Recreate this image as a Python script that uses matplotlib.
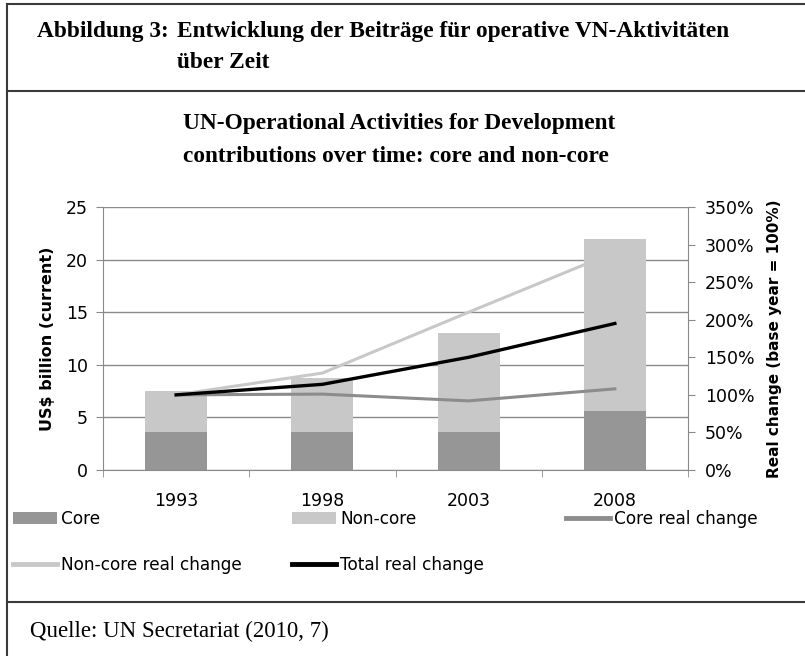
import matplotlib
matplotlib.use("Agg")
import matplotlib.pyplot as plt
import numpy as np
from matplotlib.lines import Line2D
from matplotlib.ticker import FuncFormatter

# data
years = ["1993", "1998", "2003", "2008"]
core = [3.6, 3.6, 3.6, 5.6]
non_core = [3.9, 5.1, 9.4, 16.4]
core_real = [100, 101, 92, 108]
non_core_real = [100, 129, 210, 290]
total_real = [100, 114, 150, 195]

C_CORE = "#969696"
C_NONCORE = "#c8c8c8"
C_GRID = "#8a8a8a"

plt.rcParams["font.family"] = ["DejaVu Sans"]

fig = plt.figure(figsize=(8.05, 6.56), dpi=100)

# outer frame of the figure box
frame = dict(color="#3a3a3a", lw=1.5, transform=fig.transFigure)
fig.add_artist(Line2D([0.0087, 1.0], [0.9939, 0.9939], **frame))
fig.add_artist(Line2D([0.0087, 0.0087], [0.0, 0.9939], **frame))
fig.add_artist(Line2D([0.0087, 1.0], [0.861, 0.861], **frame))
fig.add_artist(Line2D([0.0087, 1.0], [0.0823, 0.0823], **frame))

serif = ["Liberation Serif", "DejaVu Serif"]
hdr = dict(family=serif, weight="bold", fontsize=16.8, va="center", ha="left")
fig.text(37 / 805, 1 - 31 / 656, "Abbildung 3:", **hdr)
fig.text(177 / 805, 1 - 31 / 656, "Entwicklung der Beiträge für operative VN-Aktivitäten", **hdr)
fig.text(177 / 805, 1 - 63 / 656, "über Zeit", **hdr)
fig.text(183 / 805, 1 - 124 / 656, "UN-Operational Activities for Development", **hdr)
fig.text(183 / 805, 1 - 157 / 656, "contributions over time: core and non-core", **hdr)
fig.text(30 / 805, 1 - 631 / 656, "Quelle: UN Secretariat (2010, 7)",
         family=serif, fontsize=16.5, va="center", ha="left")

ax = fig.add_axes([103 / 805, 1 - 470 / 656, 585 / 805, 263 / 656])
x = np.arange(len(years))
w = 0.425
b1 = ax.bar(x, core, w, color=C_CORE, zorder=2, label="Core")
b2 = ax.bar(x, non_core, w, bottom=core, color=C_NONCORE, zorder=2, label="Non-core")

ax.set_xlim(-0.5, len(years) - 0.5)
ax.set_ylim(0, 25)
ax.set_yticks(range(0, 26, 5))
ax.set_xticks(x)
ax.set_xticklabels(years)
ax.set_xticks(np.arange(-0.5, len(years), 1), minor=True)
ax.tick_params(axis="x", which="major", length=0, pad=16, labelsize=12.5)
ax.tick_params(axis="x", which="minor", length=5, color=C_GRID, direction="out")
ax.tick_params(axis="y", length=5, color=C_GRID, labelsize=12.5, pad=6)
ax.grid(axis="y", color=C_GRID, lw=1, zorder=0)
for s in ["top", "right"]:
    ax.spines[s].set_visible(False)
for s in ["left", "bottom"]:
    ax.spines[s].set_color(C_GRID)
ax.set_ylabel("US$ billion (current)", fontsize=11.5, weight="bold", labelpad=8)

ax2 = ax.twinx()
ax2.set_ylim(0, 350)
ax2.set_yticks(range(0, 351, 50))
ax2.yaxis.set_major_formatter(FuncFormatter(lambda v, p: f"{int(v)}%"))
ax2.tick_params(axis="y", length=5, color=C_GRID, labelsize=12.5, pad=7)
for s in ["top", "left", "bottom"]:
    ax2.spines[s].set_visible(False)
ax2.spines["right"].set_color(C_GRID)
ax2.set_ylabel("Real change (base year = 100%)", fontsize=11, weight="bold", labelpad=9)

l1, = ax2.plot(x, core_real, color="#8c8c8c", lw=2.2, label="Core real change")
l2, = ax2.plot(x, non_core_real, color=C_NONCORE, lw=2.2, label="Non-core real change")
l3, = ax2.plot(x, total_real, color="black", lw=2.4, label="Total real change")

# one legend per column so the columns start where the reference has them
columns = [([b1, l2], 13), ([b2, l3], 292), ([l1], 566)]
for hs, x0 in columns:
    leg = fig.legend(hs, [h.get_label() for h in hs], loc="upper left",
                     bbox_to_anchor=(x0 / 805, 1 - 510 / 656), frameon=False,
                     fontsize=12.2, handlelength=2.6, handleheight=0.7,
                     handletextpad=0.25, labelspacing=1.65,
                     borderaxespad=0, borderpad=0)
    for h in leg.legend_handles:
        if isinstance(h, Line2D):
            h.set_linewidth(3.5)

fig.savefig("out.png", dpi=100)
